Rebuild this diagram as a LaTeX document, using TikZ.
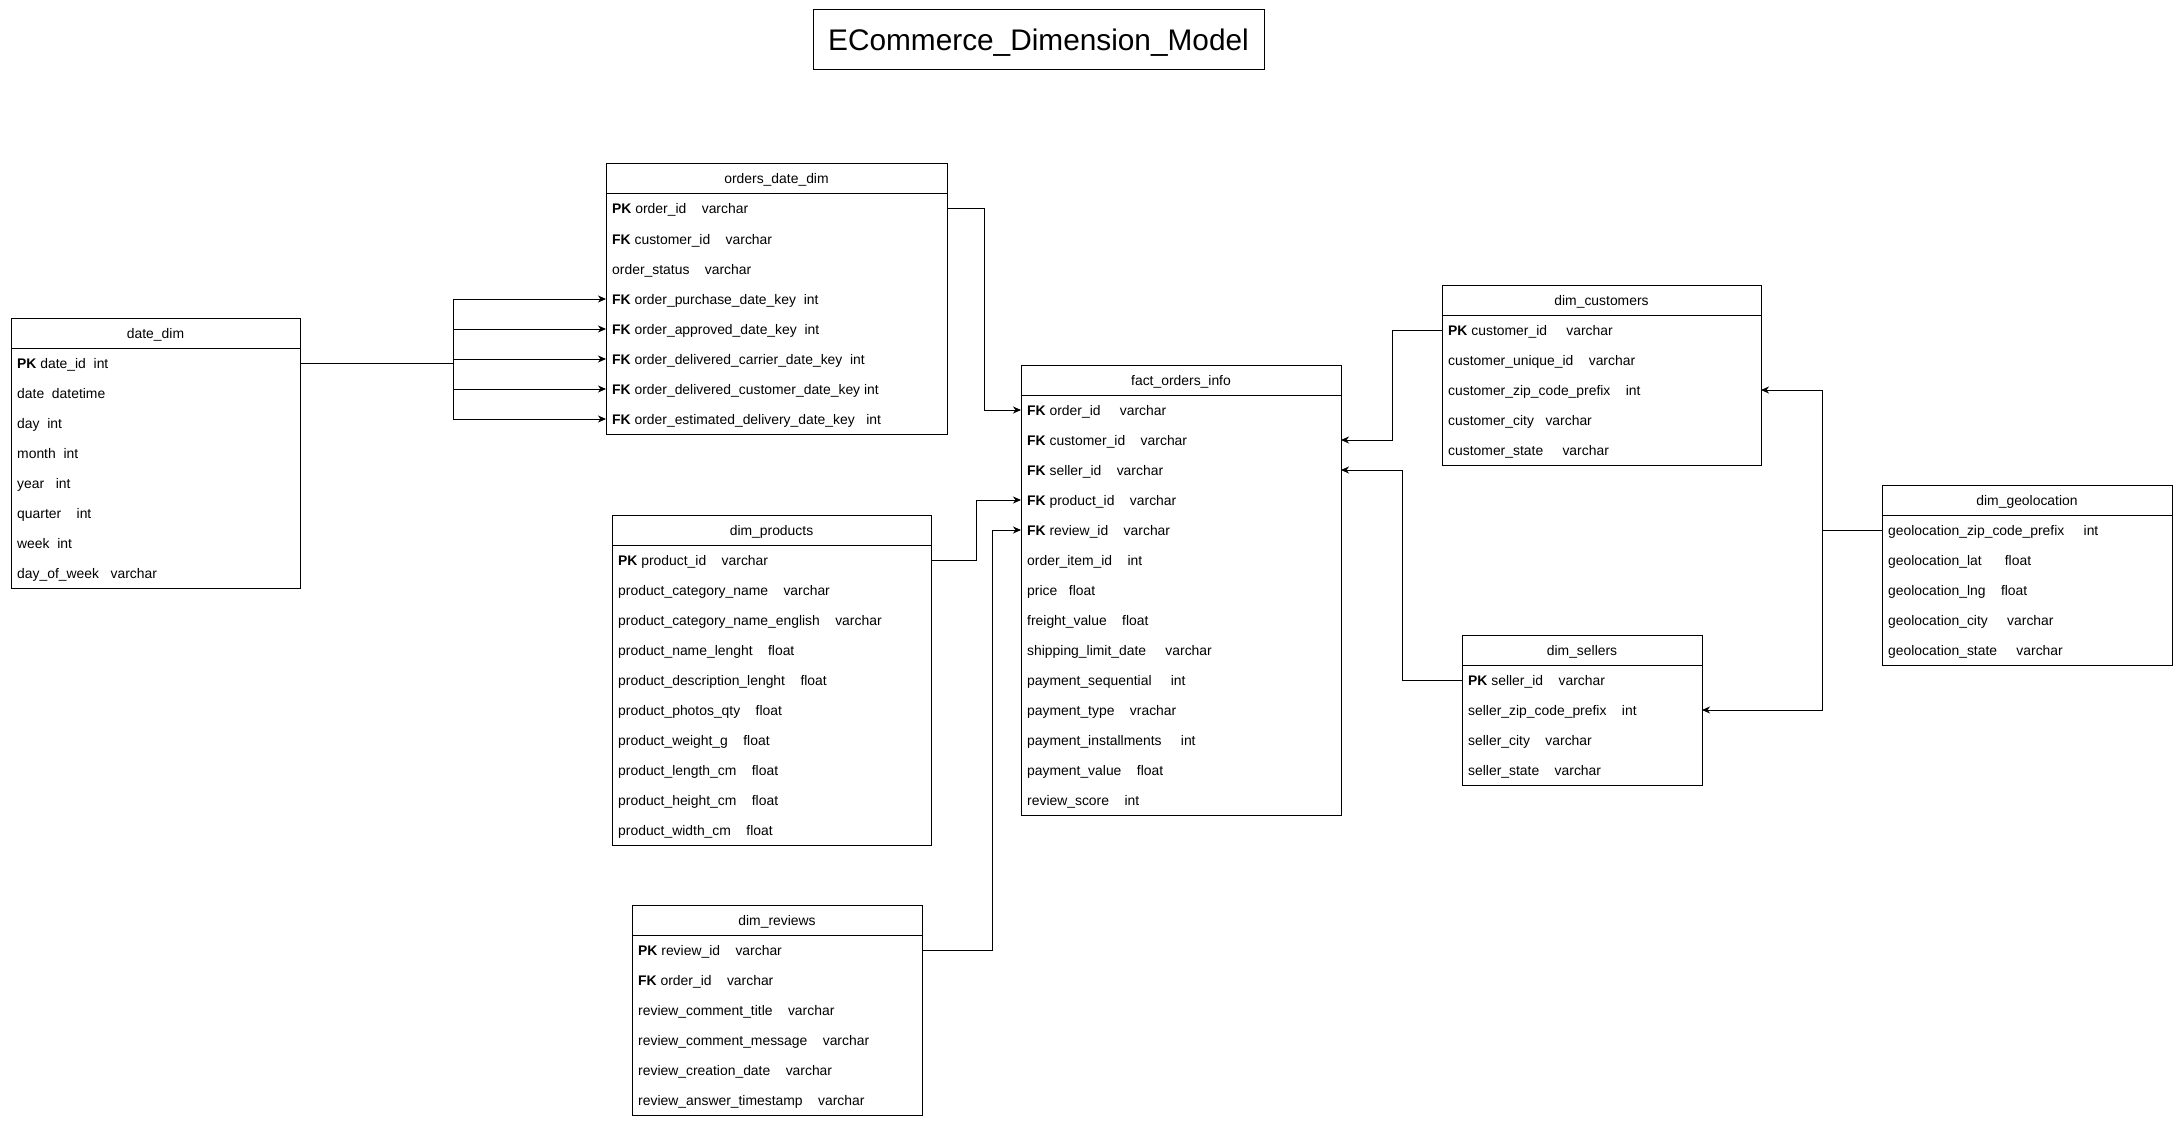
\documentclass[tikz,border=0pt]{standalone}
\usepackage{fontspec}
\setmainfont{Liberation Sans}
\usetikzlibrary{arrows.meta}
\newcommand\gapsp[1]{\hspace*{#1\fontdimen2\font}}
\newcommand\erbox[6]{%
  \node[tbox, minimum width=#4, minimum height={30+30*#5}, anchor=north west] (#1) at (#2,#3) {};
  \draw[conn] (#1.north west) ++(0,30) -- ++(#4,0);
  \path (#1.north) ++(0,15) node[thead] (#1-h) {#6};
}
\newcommand\erfld[3]{\path (#1.north west) ++(6,{15+30*#2}) node[fld] (#1-#2) {#3};}
\tikzset{
  tbox/.style={draw=black, line width=1pt, inner sep=0pt, outer sep=0pt, fill=white},
  thead/.style={font=\fontsize{13.9}{16}\selectfont, inner sep=0pt, text height=10pt, text depth=0pt},
  fld/.style={anchor=west, font=\fontsize{13.9}{16}\selectfont, inner sep=0pt, text height=10pt, text depth=0pt},
  titlebox/.style={draw=black, line width=1pt, inner sep=0pt, outer sep=0pt, minimum width=451pt, minimum height=60pt, font=\fontsize{29.8}{34}\selectfont, text height=20.6pt, text depth=0pt},
  conn/.style={line width=1pt},
  arr/.style={conn, -{Stealth[length=8pt,width=7pt,inset=2.5pt]}}
}
\begin{document}
\begin{tikzpicture}[x=1pt,y=-1pt]
\fill[white] (0,0) rectangle (2182,1126);
\useasboundingbox (0,0) rectangle (2182,1126);

\node[titlebox] (title) at (1038.5,40) {ECommerce\_Dimension\_Model};

% date_dim
\erbox{dd}{11}{318}{289}{8}{date\_dim}
\erfld{dd}{1}{\textbf{PK} date\_id\gapsp{2}int}
\erfld{dd}{2}{date\gapsp{2}datetime}
\erfld{dd}{3}{day\gapsp{2}int}
\erfld{dd}{4}{month\gapsp{2}int}
\erfld{dd}{5}{year\gapsp{3}int}
\erfld{dd}{6}{quarter\gapsp{4}int}
\erfld{dd}{7}{week\gapsp{2}int}
\erfld{dd}{8}{day\_of\_week\gapsp{3}varchar}

% orders_date_dim
\erbox{od}{606}{164}{341}{8}{orders\_date\_dim}
\erfld{od}{1}{\textbf{PK} order\_id\gapsp{4}varchar}
\erfld{od}{2}{\textbf{FK} customer\_id\gapsp{4}varchar}
\erfld{od}{3}{order\_status\gapsp{4}varchar}
\erfld{od}{4}{\textbf{FK} order\_purchase\_date\_key\gapsp{2}int}
\erfld{od}{5}{\textbf{FK} order\_approved\_date\_key\gapsp{2}int}
\erfld{od}{6}{\textbf{FK} order\_delivered\_carrier\_date\_key\gapsp{2}int}
\erfld{od}{7}{\textbf{FK} order\_delivered\_customer\_date\_key\gapsp{1}int}
\erfld{od}{8}{\textbf{FK} order\_estimated\_delivery\_date\_key\gapsp{3}int}

% dim_products
\erbox{dp}{612}{515}{319}{10}{dim\_products}
\erfld{dp}{1}{\textbf{PK} product\_id\gapsp{4}varchar}
\erfld{dp}{2}{product\_category\_name\gapsp{4}varchar}
\erfld{dp}{3}{product\_category\_name\_english\gapsp{4}varchar}
\erfld{dp}{4}{product\_name\_lenght\gapsp{4}float}
\erfld{dp}{5}{product\_description\_lenght\gapsp{4}float}
\erfld{dp}{6}{product\_photos\_qty\gapsp{4}float}
\erfld{dp}{7}{product\_weight\_g\gapsp{4}float}
\erfld{dp}{8}{product\_length\_cm\gapsp{4}float}
\erfld{dp}{9}{product\_height\_cm\gapsp{4}float}
\erfld{dp}{10}{product\_width\_cm\gapsp{4}float}

% dim_reviews
\erbox{dr}{632}{905}{290}{6}{dim\_reviews}
\erfld{dr}{1}{\textbf{PK} review\_id\gapsp{4}varchar}
\erfld{dr}{2}{\textbf{FK} order\_id\gapsp{4}varchar}
\erfld{dr}{3}{review\_comment\_title\gapsp{4}varchar}
\erfld{dr}{4}{review\_comment\_message\gapsp{4}varchar}
\erfld{dr}{5}{review\_creation\_date\gapsp{4}varchar}
\erfld{dr}{6}{review\_answer\_timestamp\gapsp{4}varchar}

% fact_orders_info
\erbox{fo}{1021}{365}{320}{14}{fact\_orders\_info}
\erfld{fo}{1}{\textbf{FK} order\_id\gapsp{5}varchar}
\erfld{fo}{2}{\textbf{FK} customer\_id\gapsp{4}varchar}
\erfld{fo}{3}{\textbf{FK} seller\_id\gapsp{4}varchar}
\erfld{fo}{4}{\textbf{FK} product\_id\gapsp{4}varchar}
\erfld{fo}{5}{\textbf{FK} review\_id\gapsp{4}varchar}
\erfld{fo}{6}{order\_item\_id\gapsp{4}int}
\erfld{fo}{7}{price\gapsp{3}float}
\erfld{fo}{8}{freight\_value\gapsp{4}float}
\erfld{fo}{9}{shipping\_limit\_date\gapsp{5}varchar}
\erfld{fo}{10}{payment\_sequential\gapsp{5}int}
\erfld{fo}{11}{payment\_type\gapsp{4}vrachar}
\erfld{fo}{12}{payment\_installments\gapsp{5}int}
\erfld{fo}{13}{payment\_value\gapsp{4}float}
\erfld{fo}{14}{review\_score\gapsp{4}int}

% dim_customers
\erbox{dc}{1442}{285}{319}{5}{dim\_customers}
\erfld{dc}{1}{\textbf{PK} customer\_id\gapsp{5}varchar}
\erfld{dc}{2}{customer\_unique\_id\gapsp{4}varchar}
\erfld{dc}{3}{customer\_zip\_code\_prefix\gapsp{4}int}
\erfld{dc}{4}{customer\_city\gapsp{3}varchar}
\erfld{dc}{5}{customer\_state\gapsp{5}varchar}

% dim_geolocation
\erbox{dg}{1882}{485}{290}{5}{dim\_geolocation}
\erfld{dg}{1}{geolocation\_zip\_code\_prefix\gapsp{5}int}
\erfld{dg}{2}{geolocation\_lat\gapsp{6}float}
\erfld{dg}{3}{geolocation\_lng\gapsp{4}float}
\erfld{dg}{4}{geolocation\_city\gapsp{5}varchar}
\erfld{dg}{5}{geolocation\_state\gapsp{5}varchar}

% dim_sellers
\erbox{ds}{1462}{635}{240}{4}{dim\_sellers}
\erfld{ds}{1}{\textbf{PK} seller\_id\gapsp{4}varchar}
\erfld{ds}{2}{seller\_zip\_code\_prefix\gapsp{4}int}
\erfld{ds}{3}{seller\_city\gapsp{4}varchar}
\erfld{ds}{4}{seller\_state\gapsp{4}varchar}

% connectors
\coordinate (tk) at (453,0);
\coordinate (c1) at (984,0);
\coordinate (c2) at (976,0);
\coordinate (c3) at (992,0);
\coordinate (c4) at (1392,0);
\coordinate (c5) at (1402,0);
\coordinate (c6) at (1822,0);

\draw[conn] (dd.east |- dd-1) -- (tk |- dd-1);
\foreach \i in {4,...,8} \draw[arr] (tk |- dd-1) |- (od.west |- od-\i);

\draw[arr] (od.east |- od-1) -- (c1 |- od-1) -- (c1 |- fo-1) -- (fo.west |- fo-1);
\draw[arr] (dp.east |- dp-1) -- (c2 |- dp-1) -- (c2 |- fo-4) -- (fo.west |- fo-4);
\draw[arr] (dr.east |- dr-1) -- (c3 |- dr-1) -- (c3 |- fo-5) -- (fo.west |- fo-5);
\draw[arr] (dc.west |- dc-1) -- (c4 |- dc-1) -- (c4 |- fo-2) -- (fo.east |- fo-2);
\draw[arr] (ds.west |- ds-1) -- (c5 |- ds-1) -- (c5 |- fo-3) -- (fo.east |- fo-3);
\draw[arr] (dg.west |- dg-1) -- (c6 |- dg-1) -- (c6 |- dc-3) -- (dc.east |- dc-3);
\draw[arr] (c6 |- dg-1) -- (c6 |- ds-2) -- (ds.east |- ds-2);
\end{tikzpicture}
\end{document}
